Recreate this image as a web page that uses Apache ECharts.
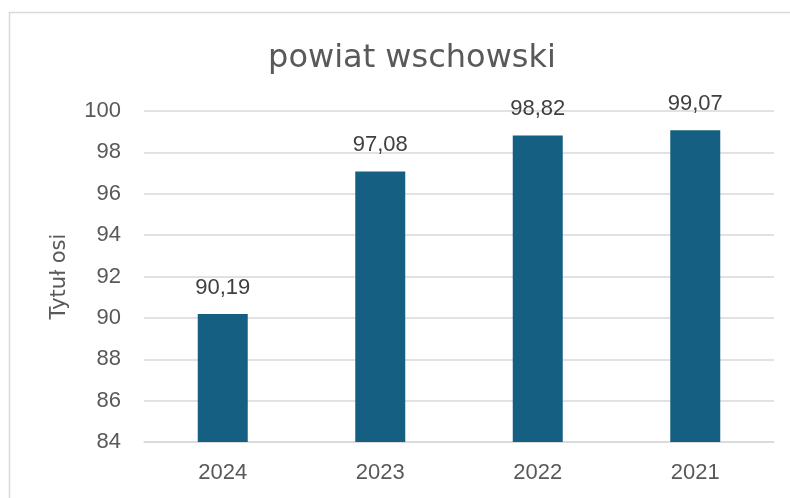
<!DOCTYPE html>
<html>
<head>
<meta charset="utf-8">
<script src="https://cdn.jsdelivr.net/npm/echarts@6/dist/echarts.min.js"></script>
<style>
  html, body { margin: 0; padding: 0; background: #fff; }
  #chart { width: 790px; height: 498px; }
</style>
</head>
<body>
<div id="chart"></div>
<script>
const years = ['2024', '2023', '2022', '2021'];
const values = [90.19, 97.08, 98.82, 99.07];
const titleText = 'powiat wschowski';
const axisName = 'Tytuł osi';

const numFont = '"Liberation Sans", Arial, sans-serif';
const textFont = '"DejaVu Sans", sans-serif';
const chart = echarts.init(document.getElementById('chart'), null, { renderer: 'canvas' });

chart.setOption({
  animation: false,
  title: {
    text: titleText,
    left: 407,
    textAlign: 'center',
    top: 38,
    textStyle: { fontFamily: textFont, fontSize: 32, fontWeight: 'normal', color: '#595959' }
  },
  graphic: [{
    type: 'rect',
    shape: { x: 9.5, y: 12.5, width: 800, height: 500 },
    style: { fill: 'none', stroke: '#d9d9d9', lineWidth: 1.5 },
    silent: true
  }],
  grid: { left: 144, right: 16, top: 111, bottom: 56 },
  xAxis: {
    type: 'category',
    data: years,
    axisLine: { show: true, lineStyle: { color: '#d9d9d9', width: 1.5 } },
    axisTick: { show: false },
    axisLabel: { fontFamily: numFont, fontSize: 22, color: '#595959', margin: 20 }
  },
  yAxis: {
    type: 'value',
    min: 84,
    max: 100,
    interval: 2,
    name: axisName,
    nameLocation: 'middle',
    nameGap: 74,
    nameTextStyle: { fontFamily: textFont, fontSize: 21, color: '#595959' },
    axisLine: { show: false },
    axisTick: { show: false },
    axisLabel: { fontFamily: numFont, fontSize: 22, color: '#595959', margin: 23 },
    splitLine: { lineStyle: { color: '#d9d9d9', width: 1.5 } }
  },
  series: [{
    type: 'bar',
    data: values,
    barWidth: 50,
    itemStyle: { color: '#156082' },
    label: {
      show: true,
      position: 'top',
      distance: 15,
      fontFamily: numFont,
      fontSize: 22,
      color: '#404040',
      formatter: p => p.value.toFixed(2).replace('.', ',')
    }
  }]
});
</script>
</body>
</html>
